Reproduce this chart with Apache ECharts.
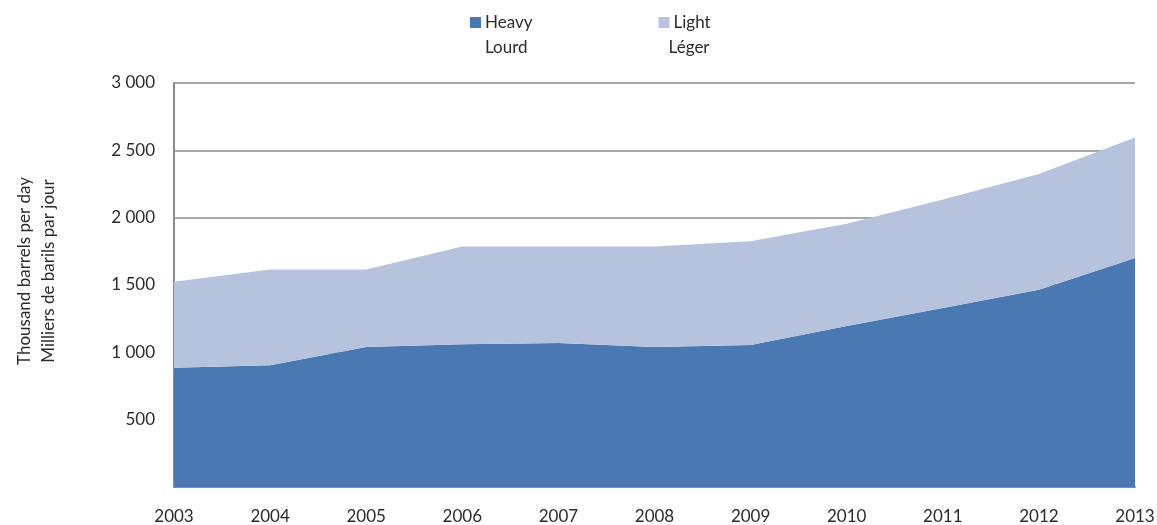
<!DOCTYPE html>
<html>
<head>
<meta charset="utf-8">
<script src="https://cdn.jsdelivr.net/npm/echarts@6/dist/echarts.min.js"></script>
<style>
  html, body { margin: 0; padding: 0; background: #fff; }
  #chart { width: 1157px; height: 525px; }
</style>
</head>
<body>
<div id="chart"></div>
<script>
const years = ['2003', '2004', '2005', '2006', '2007', '2008', '2009', '2010', '2011', '2012', '2013'];
const heavy = [885, 905, 1040, 1060, 1070, 1040, 1055, 1195, 1330, 1465, 1700];
const light = [640, 710, 575, 725, 715, 745, 770, 760, 805, 860, 895];
const namesEn = ['Heavy', 'Light'];
const namesFr = { Heavy: 'Lourd', Light: 'Léger' };

const font = 'Lato, "Open Sans", sans-serif';
const textColor = '#2b2b2b';
const gray = '#8c8c8c';

const chart = echarts.init(document.getElementById('chart'));

const option = {
  animation: false,
  textStyle: { fontFamily: font },
  legend: [
    {
      data: namesEn,
      icon: 'rect',
      left: 465,
      top: 9,
      itemWidth: 11,
      itemHeight: 11,
      itemGap: 126,
      selectedMode: false,
      textStyle: { fontFamily: font, fontSize: 17, color: textColor, padding: [0, 0, 0, -1] }
    },
    {
      // second line of the bilingual legend, icon hidden
      data: namesEn,
      icon: 'rect',
      left: 465,
      top: 34,
      itemWidth: 11,
      itemHeight: 11,
      itemGap: 126,
      selectedMode: false,
      itemStyle: { opacity: 0 },
      formatter: (n) => namesFr[n],
      textStyle: { fontFamily: font, fontSize: 17, color: textColor, padding: [0, 0, 0, -1] }
    }
  ],
  grid: { left: 174, right: 22, top: 83, bottom: 38, containLabel: false, outerBoundsMode: 'none' },
  xAxis: {
    type: 'category',
    data: years,
    boundaryGap: false,
    axisLine: { show: true, lineStyle: { color: gray, width: 2 } },
    axisTick: { show: false },
    axisLabel: { fontFamily: font, fontSize: 17, color: textColor, margin: 21, showMinLabel: true, showMaxLabel: true, interval: 0 }
  },
  yAxis: {
    type: 'value',
    min: 0,
    max: 3000,
    interval: 500,
    name: 'Thousand barrels per day\nMilliers de barils par jour',
    nameLocation: 'middle',
    nameGap: 85,
    nameRotate: 90,
    nameTextStyle: { fontFamily: font, fontSize: 17, color: textColor, lineHeight: 24, padding: [0, 0, 28, 28] },
    axisLine: { show: true, lineStyle: { color: gray, width: 2 } },
    axisTick: { show: false },
    splitLine: { show: true, lineStyle: { color: gray, width: 1.5 } },
    axisLabel: {
      fontFamily: font,
      fontSize: 17,
      color: textColor,
      margin: 19,
      formatter: (v) => v === 0 ? '' : String(v).replace(/\B(?=(\d{3})+(?!\d))/g, ' ')
    }
  },
  series: [
    {
      name: 'Heavy',
      type: 'line',
      stack: 'total',
      data: heavy,
      symbol: 'none',
      lineStyle: { width: 0 },
      itemStyle: { color: '#4a78b2' },
      areaStyle: { color: '#4a78b2', opacity: 1 }
    },
    {
      name: 'Light',
      type: 'line',
      stack: 'total',
      data: light,
      symbol: 'none',
      lineStyle: { width: 0 },
      itemStyle: { color: '#b5c3dc' },
      areaStyle: { color: '#b5c3dc', opacity: 1 }
    }
  ]
};

chart.setOption(option);
window.addEventListener('resize', () => chart.resize());
</script>
</body>
</html>
